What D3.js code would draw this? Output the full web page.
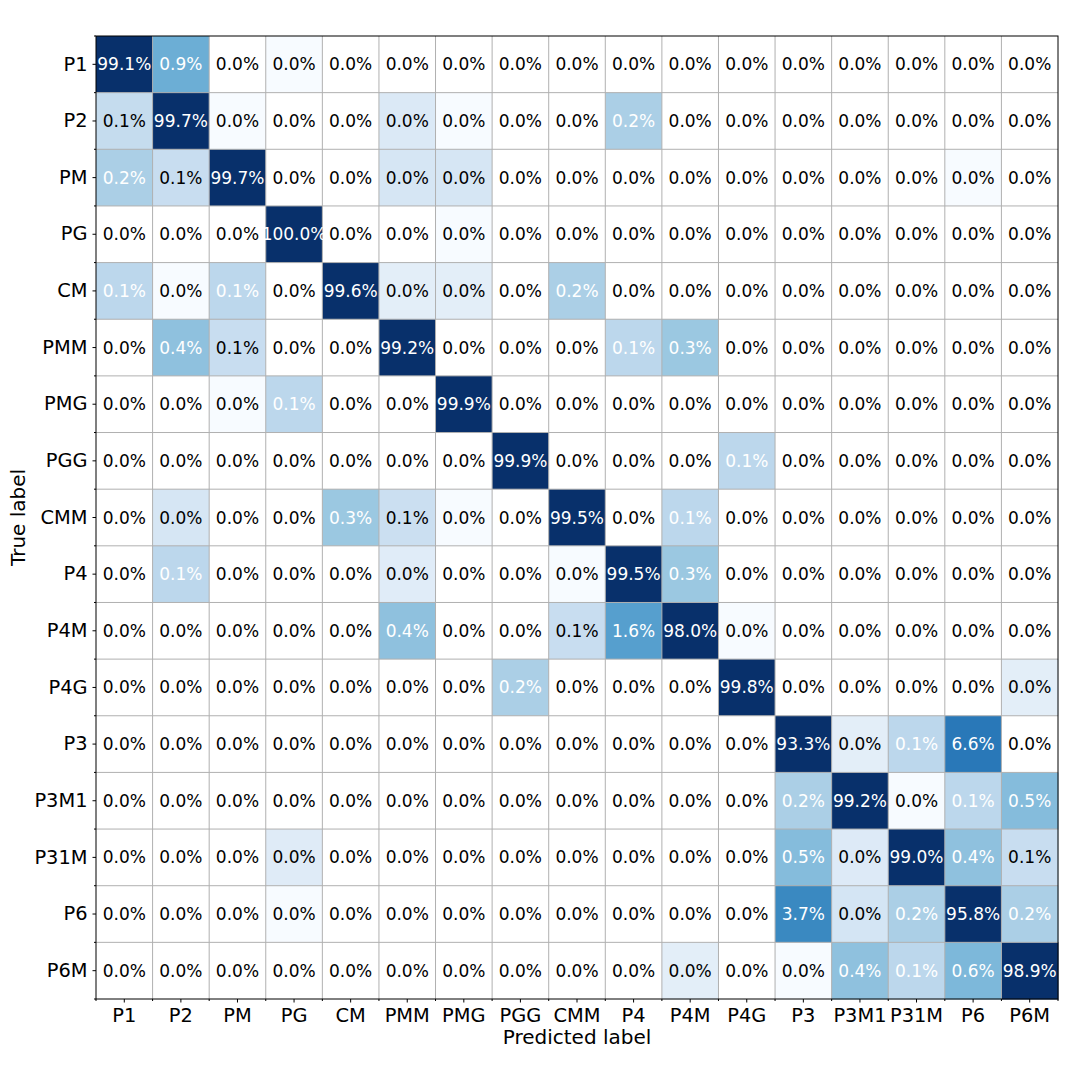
<!DOCTYPE html>
<html>
<head>
<meta charset="utf-8">
<script src="https://cdn.jsdelivr.net/npm/d3@7"></script>
<style>
  body { margin: 0; background: #fff; }
  svg { font-family: "DejaVu Sans", sans-serif; }
</style>
</head>
<body>
<div id="chart"></div>
<script>
// class labels (rows = true, columns = predicted)
const labels = ["P1", "P2", "PM", "PG", "CM", "PMM", "PMG", "PGG", "CMM",
  "P4", "P4M", "P4G", "P3", "P3M1", "P31M", "P6", "P6M"];

// row-normalised percentages, one array per true label
const rowP1   = [99.1, 0.9, 0, 0.005, 0, 0, 0, 0, 0, 0, 0, 0, 0, 0, 0, 0, 0];
const rowP2   = [0.09, 99.7, 0.005, 0, 0, 0.035, 0.005, 0, 0, 0.2, 0, 0, 0, 0, 0, 0, 0];
const rowPM   = [0.2, 0.08, 99.7, 0, 0, 0.045, 0.045, 0, 0, 0, 0, 0, 0, 0, 0, 0.005, 0];
const rowPG   = [0, 0, 0, 100.0, 0, 0, 0.005, 0, 0, 0, 0, 0, 0, 0, 0, 0, 0];
const rowCM   = [0.12, 0.005, 0.12, 0, 99.6, 0.025, 0.025, 0, 0.2, 0, 0, 0, 0, 0, 0, 0, 0];
const rowPMM  = [0, 0.4, 0.08, 0, 0, 99.2, 0, 0, 0, 0.12, 0.3, 0, 0, 0, 0, 0, 0];
const rowPMG  = [0, 0, 0.005, 0.12, 0, 0, 99.9, 0, 0, 0, 0, 0, 0, 0, 0, 0, 0];
const rowPGG  = [0, 0, 0, 0, 0, 0, 0, 99.9, 0, 0, 0, 0.12, 0, 0, 0, 0, 0];
const rowCMM  = [0, 0.045, 0, 0, 0.3, 0.07, 0.005, 0, 99.5, 0, 0.12, 0, 0, 0, 0, 0, 0];
const rowP4   = [0, 0.12, 0, 0, 0, 0.028, 0, 0, 0.005, 99.5, 0.3, 0, 0, 0, 0, 0, 0];
const rowP4M  = [0, 0, 0, 0, 0, 0.4, 0, 0, 0.08, 1.6, 98.0, 0.005, 0, 0, 0, 0, 0];
const rowP4G  = [0, 0, 0, 0, 0, 0, 0, 0.2, 0, 0, 0, 99.8, 0, 0, 0, 0, 0.025];
const rowP3   = [0, 0, 0, 0, 0, 0, 0, 0, 0, 0, 0, 0, 93.3, 0.025, 0.12, 6.6, 0];
const rowP3M1 = [0, 0, 0, 0, 0, 0, 0, 0, 0, 0, 0, 0, 0.2, 99.2, 0.005, 0.12, 0.5];
const rowP31M = [0, 0, 0, 0.03, 0, 0, 0, 0, 0, 0, 0, 0, 0.5, 0.032, 99.0, 0.4, 0.08];
const rowP6   = [0, 0, 0, 0.005, 0, 0, 0, 0, 0, 0, 0, 0, 3.7, 0.048, 0.2, 95.8, 0.2];
const rowP6M  = [0, 0, 0, 0, 0, 0, 0, 0, 0, 0, 0.025, 0, 0.005, 0.4, 0.12, 0.6, 98.9];

const matrix = [rowP1, rowP2, rowPM, rowPG, rowCM, rowPMM, rowPMG, rowPGG, rowCMM,
  rowP4, rowP4M, rowP4G, rowP3, rowP3M1, rowP31M, rowP6, rowP6M];

const W = 1080, H = 1080;
const margin = { top: 36, right: 22, bottom: 81, left: 96 };
const width = W - margin.left - margin.right;
const height = H - margin.top - margin.bottom;

const svg = d3.select("#chart").append("svg")
  .attr("width", W)
  .attr("height", H);

const g = svg.append("g")
  .attr("transform", "translate(" + margin.left + "," + margin.top + ")");

const x = d3.scaleBand().domain(labels).range([0, width]);
const y = d3.scaleBand().domain(labels).range([0, height]);

// log colour scale, zeros stay white
const color = d3.scaleSequentialLog(d3.interpolateBlues)
  .domain([0.01, 80])
  .clamp(true);

const cells = [];
matrix.forEach((row, i) => {
  row.forEach((v, j) => {
    cells.push({ t: labels[i], p: labels[j], v: v });
  });
});

g.selectAll("rect.cell")
  .data(cells)
  .enter()
  .append("rect")
  .attr("class", "cell")
  .attr("x", d => x(d.p))
  .attr("y", d => y(d.t))
  .attr("width", x.bandwidth() + 0.5)
  .attr("height", y.bandwidth() + 0.5)
  .attr("fill", d => d.v > 0 ? color(d.v) : "#ffffff");

// grid on cell edges
const edges = d3.range(1, labels.length);
g.selectAll("line.vgrid")
  .data(edges)
  .enter()
  .append("line")
  .attr("x1", i => i * x.step()).attr("x2", i => i * x.step())
  .attr("y1", 0).attr("y2", height)
  .attr("stroke", "#b0b0b0").attr("stroke-width", 1);
g.selectAll("line.hgrid")
  .data(edges)
  .enter()
  .append("line")
  .attr("y1", i => i * y.step()).attr("y2", i => i * y.step())
  .attr("x1", 0).attr("x2", width)
  .attr("stroke", "#b0b0b0").attr("stroke-width", 1);

g.selectAll("text.val")
  .data(cells)
  .enter()
  .append("text")
  .attr("class", "val")
  .attr("x", d => x(d.p) + x.bandwidth() / 2)
  .attr("y", d => y(d.t) + y.bandwidth() / 2)
  .attr("text-anchor", "middle")
  .attr("dominant-baseline", "central")
  .attr("font-size", "17px")
  .attr("fill", d => d.v > 0.1 ? "#ffffff" : "#000000")
  .text(d => d.v.toFixed(1) + "%");

// frame
g.append("rect")
  .attr("width", width)
  .attr("height", height)
  .attr("fill", "none")
  .attr("stroke", "#000")
  .attr("stroke-width", 1);

// minor ticks on cell edges
g.selectAll("line.mtx")
  .data(d3.range(0, labels.length + 1))
  .enter()
  .append("line")
  .attr("x1", i => i * x.step()).attr("x2", i => i * x.step())
  .attr("y1", height).attr("y2", height + 2)
  .attr("stroke", "#000");
g.selectAll("line.mty")
  .data(d3.range(0, labels.length + 1))
  .enter()
  .append("line")
  .attr("y1", i => i * y.step()).attr("y2", i => i * y.step())
  .attr("x1", 0).attr("x2", -2)
  .attr("stroke", "#000");

const xAxis = g.append("g")
  .attr("transform", "translate(0," + height + ")")
  .call(d3.axisBottom(x).tickSizeOuter(0).tickSize(3.5).tickPadding(5.5));
const yAxis = g.append("g")
  .call(d3.axisLeft(y).tickSizeOuter(0).tickSize(3.5).tickPadding(5));

[xAxis, yAxis].forEach(a => {
  a.select(".domain").remove();
  a.selectAll("text")
    .attr("font-size", "19.4px")
    .attr("font-family", "DejaVu Sans, sans-serif")
    .attr("fill", "#000");
  a.selectAll("line").attr("stroke", "#000");
});

svg.append("text")
  .attr("x", margin.left + width / 2)
  .attr("y", 1044)
  .attr("text-anchor", "middle")
  .attr("font-size", "20px")
  .text("Predicted label");

svg.append("text")
  .attr("transform", "translate(25," + (margin.top + height / 2) + ") rotate(-90)")
  .attr("text-anchor", "middle")
  .attr("font-size", "20px")
  .text("True label");
</script>
</body>
</html>
